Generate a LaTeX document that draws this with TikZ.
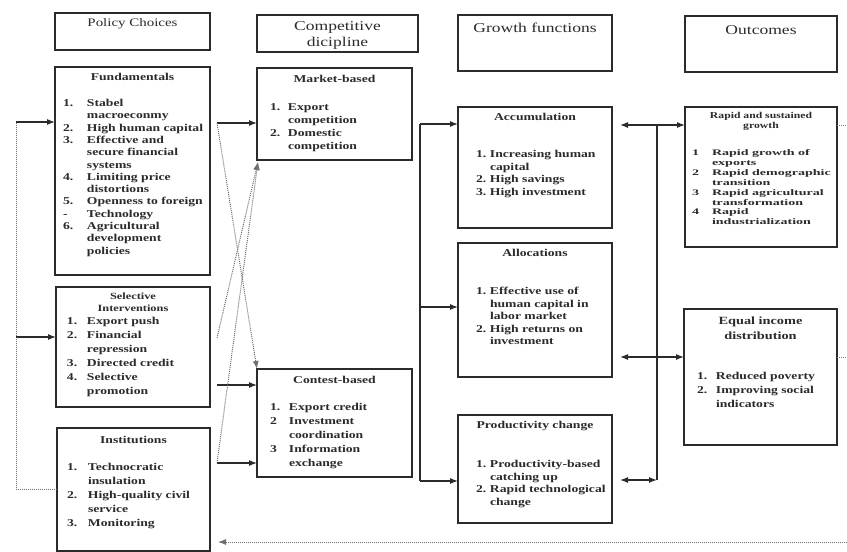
\documentclass[tikz,border=0pt]{standalone}
\usepackage{fontspec}
\setmainfont{Liberation Serif}
\newfontfamily\fa[FakeStretch=1.3]{Liberation Serif}
\newfontfamily\fb[FakeStretch=1.65]{Liberation Serif}
\usetikzlibrary{arrows.meta}
\definecolor{ink}{HTML}{2B2B2B}
\definecolor{dotc}{HTML}{707070}
\newlength\nind
\newlength\tind
\newcommand{\nl}{\unskip\hfil\break}
\newcommand{\entry}[2]{\par\hangindent=\tind\hangafter=1\noindent\hspace*{\nind}\makebox[\dimexpr\tind-\nind\relax][l]{#1}#2\par}
\newcommand{\bxc}[3]{\parbox[t][#2][t]{#1}{\raggedright #3}}
\tikzset{
  bx/.style={draw=ink, line width=1.1pt, inner sep=0pt, outer sep=0pt, anchor=north west, text=ink},
  conn/.style={draw=ink, line width=1.1pt},
  arr/.style={conn, -{Latex[length=8pt,width=6pt]}},
  darr/.style={conn, {Latex[length=8pt,width=6pt]}-{Latex[length=8pt,width=6pt]}},
  dotline/.style={draw=dotc, line width=1pt, densely dotted},
  dotarr/.style={dotline, -{Latex[length=8pt,width=6pt]}},
}
\begin{document}
\begin{tikzpicture}[x=1pt,y=-1pt]
\path[use as bounding box, fill=white] (0,0) rectangle (847,552);

% headers
\node[bx] (hpc) at (55,13) {\bxc{155pt}{37pt}{\fa\fontsize{11.5}{13}\selectfont\centering\rule{0pt}{13.5pt}Policy Choices\par}};
\node[bx] (hcd) at (257,15) {\bxc{161pt}{37pt}{\fa\fontsize{13.5}{16}\selectfont\centering\rule{0pt}{15.5pt}Competitive\\dicipline\par}};
\node[bx] (hgf) at (458,15) {\bxc{154pt}{56pt}{\fa\fontsize{13.5}{16}\selectfont\centering\rule{0pt}{17.5pt}Growth functions\par}};
\node[bx] (hout) at (685,16) {\bxc{152pt}{56pt}{\fa\fontsize{13.5}{16}\selectfont\centering\rule{0pt}{18.5pt}Outcomes\par}};

% column 1
\node[bx] (fund) at (55,67) {\bxc{155pt}{208pt}{\fa\bfseries\fontsize{10.5}{12.3}\selectfont
\setlength\nind{8pt}\setlength\tind{32pt}
{\centering\rule{0pt}{13.5pt}Fundamentals\par}
\vspace{13.7pt}
\entry{1.}{Stabel\nl macroeconmy}
\entry{2.}{High human capital}
\entry{3.}{Effective and\nl secure financial\nl systems}
\entry{4.}{Limiting price\nl distortions}
\entry{5.}{Openness to foreign}
\entry{-}{Technology}
\entry{6.}{Agricultural\nl development\nl policies}}};

\node[bx] (sel) at (56,287) {\bxc{154pt}{120pt}{\fa\bfseries\fontsize{9.5}{12}\selectfont
\setlength\nind{11pt}\setlength\tind{31pt}
{\centering\rule{0pt}{12.5pt}Selective\\Interventions\par}
\fontsize{10.5}{14}\selectfont
\vspace{-1pt}
\entry{1.}{Export push}
\entry{2.}{Financial\nl repression}
\entry{3.}{Directed credit}
\entry{4.}{Selective\nl promotion}}};

\node[bx] (inst) at (57,428) {\bxc{153pt}{123pt}{\fa\bfseries\fontsize{10.5}{14}\selectfont
\setlength\nind{10pt}\setlength\tind{31pt}
{\centering\rule{0pt}{15.5pt}Institutions\par}
\vspace{13pt}
\entry{1.}{Technocratic\nl insulation}
\entry{2.}{High-quality civil\nl service}
\entry{3.}{Monitoring}}};

% column 2
\node[bx] (mkt) at (257,68) {\bxc{155pt}{92pt}{\fa\bfseries\fontsize{10.5}{13}\selectfont
\setlength\nind{13pt}\setlength\tind{31pt}
{\centering\rule{0pt}{14.5pt}Market-based\par}
\vspace{15pt}
\entry{1.}{Export\nl competition}
\entry{2.}{Domestic\nl competition}}};

\node[bx] (con) at (257,369) {\bxc{155pt}{108pt}{\fa\bfseries\fontsize{10.5}{14}\selectfont
\setlength\nind{13pt}\setlength\tind{32pt}
{\centering\rule{0pt}{14.5pt}Contest-based\par}
\vspace{13pt}
\entry{1.}{Export credit}
\entry{2}{Investment\nl coordination}
\entry{3}{Information\nl exchange}}};

% column 3
\node[bx] (acc) at (458,107) {\bxc{154pt}{121pt}{\fa\bfseries\fontsize{10.5}{12.7}\selectfont
\setlength\nind{18pt}\setlength\tind{32pt}
{\centering\rule{0pt}{13.5pt}Accumulation\par}
\vspace{24.3pt}
\entry{1.}{Increasing human\nl capital}
\entry{2.}{High savings}
\entry{3.}{High investment}}};

\node[bx] (alc) at (458,243) {\bxc{154pt}{134pt}{\fa\bfseries\fontsize{10.5}{12.5}\selectfont
\setlength\nind{18pt}\setlength\tind{32pt}
{\centering\rule{0pt}{13.5pt}Allocations\par}
\vspace{25.5pt}
\entry{1.}{Effective use of\nl human capital in\nl labor market}
\entry{2.}{High returns on\nl investment}}};

\node[bx] (prd) at (458,415) {\bxc{154pt}{108pt}{\fa\bfseries\fontsize{10.5}{12.7}\selectfont
\setlength\nind{18pt}\setlength\tind{32pt}
{\centering\rule{0pt}{13.5pt}Productivity change\par}
\vspace{26.3pt}
\entry{1.}{Productivity-based\nl catching up}
\entry{2.}{Rapid technological\nl change}}};

% column 4
\node[bx] (rg) at (685,107) {\bxc{152pt}{140pt}{\fa\bfseries\fontsize{9}{10}\selectfont
{\centering\rule{0pt}{11pt}Rapid and sustained\\growth\par}
\fb\bfseries\fontsize{8.5}{9.85}\selectfont
\setlength\nind{7pt}\setlength\tind{27pt}
\vspace{18pt}
\entry{1}{Rapid growth of\nl exports}
\entry{2}{Rapid demographic\nl transition}
\entry{3}{Rapid agricultural\nl transformation}
\entry{4}{Rapid\nl industrialization}}};

\node[bx] (eq) at (684,309) {\bxc{153pt}{136pt}{\fa\bfseries\fontsize{11}{15}\selectfont
{\centering\rule{0pt}{15pt}Equal income\\distribution\par}
\fontsize{10.5}{14}\selectfont
\setlength\nind{13pt}\setlength\tind{32pt}
\vspace{26.5pt}
\entry{1.}{Reduced poverty}
\entry{2.}{Improving social\nl indicators}}};

% left feedback
\coordinate (L1) at (16,122);
\coordinate (L2) at (16,337);
\coordinate (L3) at (16,489);
\draw[dotline] (L3 -| inst.west) -- (L3) -- (L1);
\draw[arr] (L1) -- (L1 -| fund.west);
\draw[arr] (L2) -- (L2 -| sel.west);

% policy -> competitive discipline
\coordinate (F1) at (217,123);
\coordinate (S1) at (217,338);
\coordinate (S2) at (217,385);
\coordinate (I1) at (217,463);
\draw[arr] (F1) -- (F1 -| mkt.west);
\draw[arr] (S2) -- (S2 -| con.west);
\draw[arr] (I1) -- (I1 -| con.west);
\draw[dotarr] (F1) -- (con.north west);
\draw[dotarr] (S1) -- ([xshift=1pt,yshift=-2pt]mkt.south west);
\draw[dotarr] (I1) -- ([xshift=1pt,yshift=-2pt]mkt.south west);

% bracket to growth functions
\coordinate (M1) at (420,124);
\coordinate (M2) at (420,307);
\coordinate (M3) at (420,481);
\draw[conn] (M1) -- (M3);
\draw[arr] (M1) -- (M1 -| acc.west);
\draw[arr] (M2) -- (M2 -| alc.west);
\draw[arr] (M3) -- (M3 -| prd.west);

% growth functions <-> outcomes
\coordinate (R1) at (657,125);
\coordinate (R2) at (657,357);
\coordinate (R3) at (657,480);
\draw[conn] (R1) -- (R3);
\draw[arr, shorten >=8pt] (R1) -- (R1 -| acc.east);
\draw[arr] (R1) -- (R1 -| rg.west);
\draw[arr, shorten >=8pt] (R2) -- (R2 -| alc.east);
\draw[arr] (R2) -- (R2 -| eq.west);
\draw[darr, shorten <=8pt] (R3 -| prd.east) -- (R3);

% outer dotted feedback
\coordinate (E1) at (847,125);
\coordinate (E2) at (847,357);
\coordinate (E3) at (847,542);
\draw[dotline] (R1 -| rg.east) -- (E1);
\draw[dotline] (R2 -| eq.east) -- (E2);
\draw[dotarr, shorten >=8pt] (E3) -- (E3 -| inst.east);
\end{tikzpicture}
\end{document}
